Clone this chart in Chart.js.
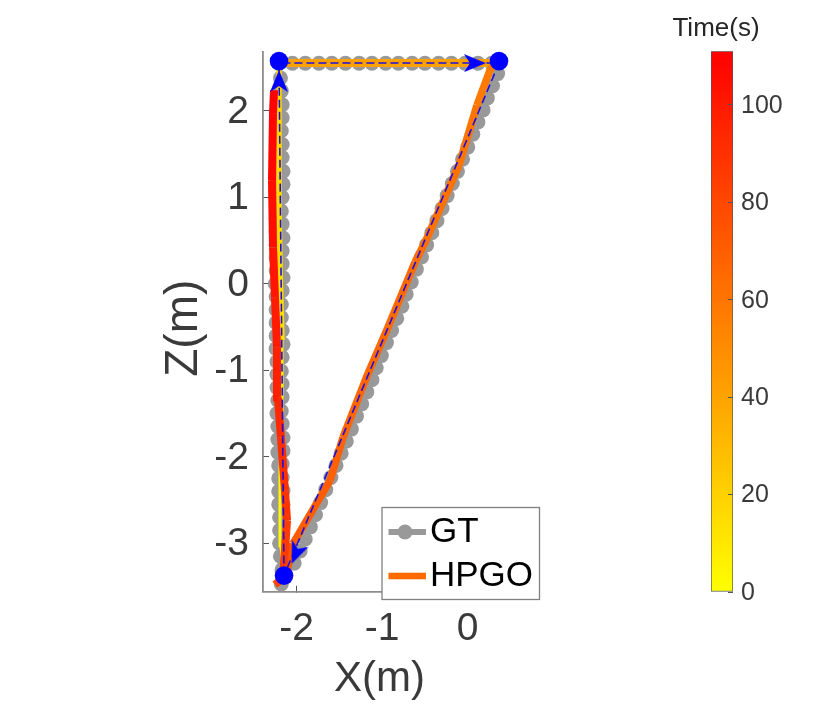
<!DOCTYPE html>
<html><head><meta charset="utf-8">
<script src="https://cdn.jsdelivr.net/npm/chart.js@4/dist/chart.umd.min.js"></script>
<style>html,body{margin:0;padding:0;background:#fff;overflow:hidden}canvas{position:absolute;top:0}</style>
</head><body>
<canvas id="main" width="830" height="705" style="left:0"></canvas>
<canvas id="bar" width="152" height="705" style="left:640px"></canvas>
<script>
const xTicks=[-2,-1,0];
const zTicks=[-3,-2,-1,0,1,2];
const timeTicks=[0,20,40,60,80,100];
const timeRange=[0,111];
const legendNames=['GT','HPGO'];

const gtX=[-2.18,-2.17,-2.16,-2.17,-2.18,-2.17,-2.16,-2.16,-2.17,-2.17,-2.16,-2.16,-2.17,-2.18,-2.17,-2.17,-2.18,-2.17,-2.16,-2.17,-2.18,-2.18,-2.17,-2.16,-2.17,-2.17,-2.16,-2.17,-2.18,-2.17,-2.16,-2.16,-2.17,-2.17,-2.18,-2.17,-2.17,-2.18,-2.19,
-2.21,-2.05,-1.90,-1.74,-1.59,-1.43,-1.27,-1.12,-.96,-.81,-.65,-.50,-.34,-.19,-.03,.12,.28,
.38,.35,.29,.23,.18,.12,.06,0,-.06,-.12,-.18,-.24,-.30,-.36,-.42,-.48,-.54,-.60,-.66,-.72,-.77,-.83,-.89,-.95,-1.01,-1.07,-1.12,-1.18,-1.24,-1.30,-1.36,-1.42,-1.48,-1.54,-1.60,-1.66,-1.72,-1.78,-1.84,-1.90,-1.96,-2.03,-2.13,
-2.17,-2.19,-2.20,-2.20,-2.20,-2.21,-2.21,-2.21,-2.21,-2.22,-2.22,-2.22,-2.23,-2.22,-2.23,-2.23,-2.23,-2.24,-2.24,-2.24,-2.24,-2.24,-2.25,-2.24,-2.24,-2.24,-2.24,-2.24,-2.23,-2.23,-2.23,-2.22,-2.22,-2.22,-2.21,-2.21,-2.21];
const gtZ=[-3.47,-3.32,-3.16,-3.01,-2.85,-2.70,-2.55,-2.39,-2.24,-2.08,-1.93,-1.78,-1.62,-1.47,-1.31,-1.16,-1.01,-.85,-.70,-.54,-.39,-.24,-.08,.07,.23,.38,.53,.69,.84,1.00,1.15,1.30,1.46,1.61,1.77,1.92,2.07,2.23,2.38,
2.55,2.55,2.55,2.55,2.55,2.55,2.55,2.55,2.55,2.55,2.55,2.55,2.55,2.55,2.55,2.55,2.55,
2.58,2.43,2.29,2.15,2.01,1.87,1.73,1.58,1.44,1.30,1.16,1.02,.87,.73,.59,.45,.31,.17,.02,-.12,-.26,-.40,-.54,-.68,-.83,-.97,-1.11,-1.25,-1.39,-1.53,-1.68,-1.82,-1.96,-2.10,-2.24,-2.38,-2.53,-2.67,-2.81,-2.95,-3.09,-3.23,-3.37,
-3.30,-3.15,-3.00,-2.85,-2.70,-2.55,-2.40,-2.25,-2.10,-1.95,-1.80,-1.65,-1.50,-1.35,-1.20,-1.05,-.90,-.75,-.60,-.45,-.30,-.15,0,.15,.30,.45,.60,.75,.90,1.05,1.20,1.35,1.50,1.65,1.80,1.95,2.10];

const hpgoX=[-2.148,-2.184,-2.195,-2.172,-2.172,-2.195,-2.207,-2.207,-2.207,.319,.261,.109,-.102,-.488,-.616,-.932,-1.166,-1.459,-1.611,-2.043,-2.113,-2.160,-2.254,-2.160,-2.113,-2.137,-2.184,-2.219,-2.230,-2.254,-2.277,-2.289,-2.277,-2.265];
const hpgoZ=[-3.374,-3.030,-2.160,-1.580,-.650,.160,.970,2.120,2.552,2.552,2.471,2.066,1.372,.503,.249,-.503,-1.036,-1.777,-2.275,-3.003,-3.316,-3.408,-3.478,-3.408,-2.737,-2.390,-1.777,-1.314,-.735,-.156,.422,1.198,1.973,2.240];
const hpgoT=[0,2,5,8,15,16,17,18,41,58,58,60,62,64,65,66,67,69,71,73,75,77,80,85,88,90,93,96,99,102,105,108,110,110];

const quiverX=[-2.148,-2.207,.366,-2.148];
const quiverZ=[-3.374,2.552,2.552,-3.374];
const headX=[.085,-2.207,-2.008];
const headZ=[2.552,2.344,-3.119];
const headAngle=[0,-90,112.7];
const cornerX=[-2.207,.366,-2.148];
const cornerZ=[2.575,2.575,-3.374];

const pts=(a,b)=>a.map((v,i)=>({x:v,y:b[i]}));
const timeColor=t=>`rgb(255,${Math.round(255*(1-t/timeRange[1]))},0)`;
const timeWidth=t=>t<15?3:t<30?5.5:t<50?8:t<82?7.5:8;
const GREY='#999999',TXT='#3a3a3a',FONT='"Liberation Sans",Arial,sans-serif';

function mk(w,h){const c=document.createElement('canvas');c.width=w;c.height=h;return c;}
const arrow=mk(22,18);(g=>{g.fillStyle='#0000ff';g.beginPath();g.moveTo(22,9);g.lineTo(0,0);g.lineTo(6,9);g.lineTo(0,18);g.closePath();g.fill();})(arrow.getContext('2d'));
const keyGT=mk(42,16);(g=>{g.fillStyle=GREY;g.fillRect(0,5,42,6);g.beginPath();g.arc(21,8,7.5,0,7);g.fill();})(keyGT.getContext('2d'));
const keyHP=mk(42,16);(g=>{g.fillStyle='#ff6a00';g.fillRect(0,4.75,42,6.5);})(keyHP.getContext('2d'));

const legendBoxPlugin={id:'legendBox',
 afterLayout(c){const l=c.legend;l.left=388.5;l.top=505.5;l.right=540;l.bottom=606;l.width=151;l.height=100;},
 afterDraw(c){const g=c.ctx;g.save();g.fillStyle='#fff';g.strokeStyle='#808080';g.lineWidth=1.3;g.fillRect(382,507.5,157.5,92);g.strokeRect(382,507.5,157.5,92);g.restore();c.legend.draw();}
};
const fmt=v=>String(v);

new Chart(document.getElementById('main'),{type:'scatter',plugins:[legendBoxPlugin],
 data:{datasets:[
  {label:'GT',data:pts(gtX,gtZ),showLine:true,borderColor:GREY,borderWidth:5,backgroundColor:GREY,pointRadius:7.5,pointBorderWidth:0,clip:false,order:5},
  {label:'HPGO',data:pts(hpgoX,hpgoZ),showLine:true,pointRadius:0,clip:false,order:4,borderColor:'#ff6a00',borderCapStyle:'butt',
   segment:{borderColor:s=>timeColor(hpgoT[s.p0DataIndex]),borderWidth:s=>timeWidth(hpgoT[s.p0DataIndex])}},
  {label:'Path',data:pts(quiverX,quiverZ),showLine:true,borderColor:'#1a10e0',borderWidth:1.6,borderDash:[8,4],pointRadius:0,clip:false,order:3},
  {label:'Direction',data:pts(headX,headZ),showLine:false,pointStyle:arrow,rotation:headAngle,pointRadius:10,clip:false,order:2},
  {label:'Corners',data:pts(cornerX,cornerZ),showLine:false,pointRadius:9.3,pointBorderWidth:0,backgroundColor:'#0000ff',clip:false,order:1}
 ]},
 options:{responsive:false,animation:false,events:[],devicePixelRatio:1,
  layout:{padding:{left:0,top:52,right:334,bottom:0}},
  plugins:{tooltip:{enabled:false},
   legend:{position:'chartArea',align:'start',labels:{padding:9,usePointStyle:true,pointStyleWidth:15,color:'#000',font:{family:FONT,size:35},
    generateLabels:()=>legendNames.map((n,i)=>({text:n,pointStyle:i?keyHP:keyGT,fontColor:'#000',hidden:false,lineWidth:0,datasetIndex:i}))}}},
  scales:{
   x:{type:'linear',min:-2.394,max:.331,
    afterFit:s=>{s.height=113.3},
    afterBuildTicks:s=>{s.ticks=xTicks.map(v=>({value:v}))},
    grid:{drawOnChartArea:false,tickLength:-6,color:'#555',tickWidth:1},
    border:{color:'#8c8c8c',width:1.8},
    ticks:{callback:fmt,color:TXT,font:{family:FONT,size:39},padding:20,maxRotation:0,autoSkip:false},
    title:{display:true,text:'X(m)',color:TXT,font:{family:FONT,size:42,lineHeight:1},padding:{top:0,bottom:5}}},
   y:{type:'linear',min:-3.56,max:2.68,
    afterFit:s=>{s.width=263},
    afterBuildTicks:s=>{s.ticks=zTicks.map(v=>({value:v}))},
    grid:{drawOnChartArea:false,tickLength:-6,color:'#555',tickWidth:1},
    border:{color:'#8c8c8c',width:1.8},
    ticks:{callback:fmt,color:TXT,font:{family:FONT,size:39},padding:20,autoSkip:false,labelOffset:1},
    title:{display:true,text:'Z(m) ',color:TXT,font:{family:FONT,size:46,lineHeight:1},padding:{top:161,bottom:0}}}
  }}});

const barStops=['#ffff00','#ff0000'];
new Chart(document.getElementById('bar'),{type:'bar',
 data:{labels:['Time(s)'],datasets:[{label:'Time(s)',yAxisID:'y',xAxisID:'x',data:[timeRange],barPercentage:1,categoryPercentage:1,borderSkipped:false,borderWidth:1,borderColor:'#555',
  backgroundColor:c=>{const a=c.chart.chartArea;if(!a)return barStops[0];const g=c.chart.ctx.createLinearGradient(0,a.bottom,0,a.top);barStops.forEach((s,i)=>g.addColorStop(i,s));return g;}}]},
 options:{responsive:false,animation:false,events:[],devicePixelRatio:1,
  layout:{padding:{left:0,top:0,right:0,bottom:113}},
  plugins:{legend:{display:false},tooltip:{enabled:false},
   title:{display:true,text:'Time(s)',color:'#262626',font:{family:FONT,size:26,weight:'normal',lineHeight:1.2},padding:{top:13,bottom:7}}},
  scales:{
   x:{display:false},
   spacer:{axis:'y',type:'linear',position:'left',afterFit:s=>{s.width=71},grid:{display:false},border:{display:false},ticks:{display:false}},
   y:{position:'right',min:timeRange[0],max:timeRange[1],
    afterFit:s=>{s.width=59},
    afterBuildTicks:s=>{s.ticks=timeTicks.map(v=>({value:v}))},
    grid:{drawOnChartArea:false,tickLength:-5,color:'#555',z:1},
    border:{display:false},
    ticks:{callback:fmt,color:TXT,font:{family:FONT,size:25},padding:13,autoSkip:false,labelOffset:1}}
  }}});
</script>
</body></html>
